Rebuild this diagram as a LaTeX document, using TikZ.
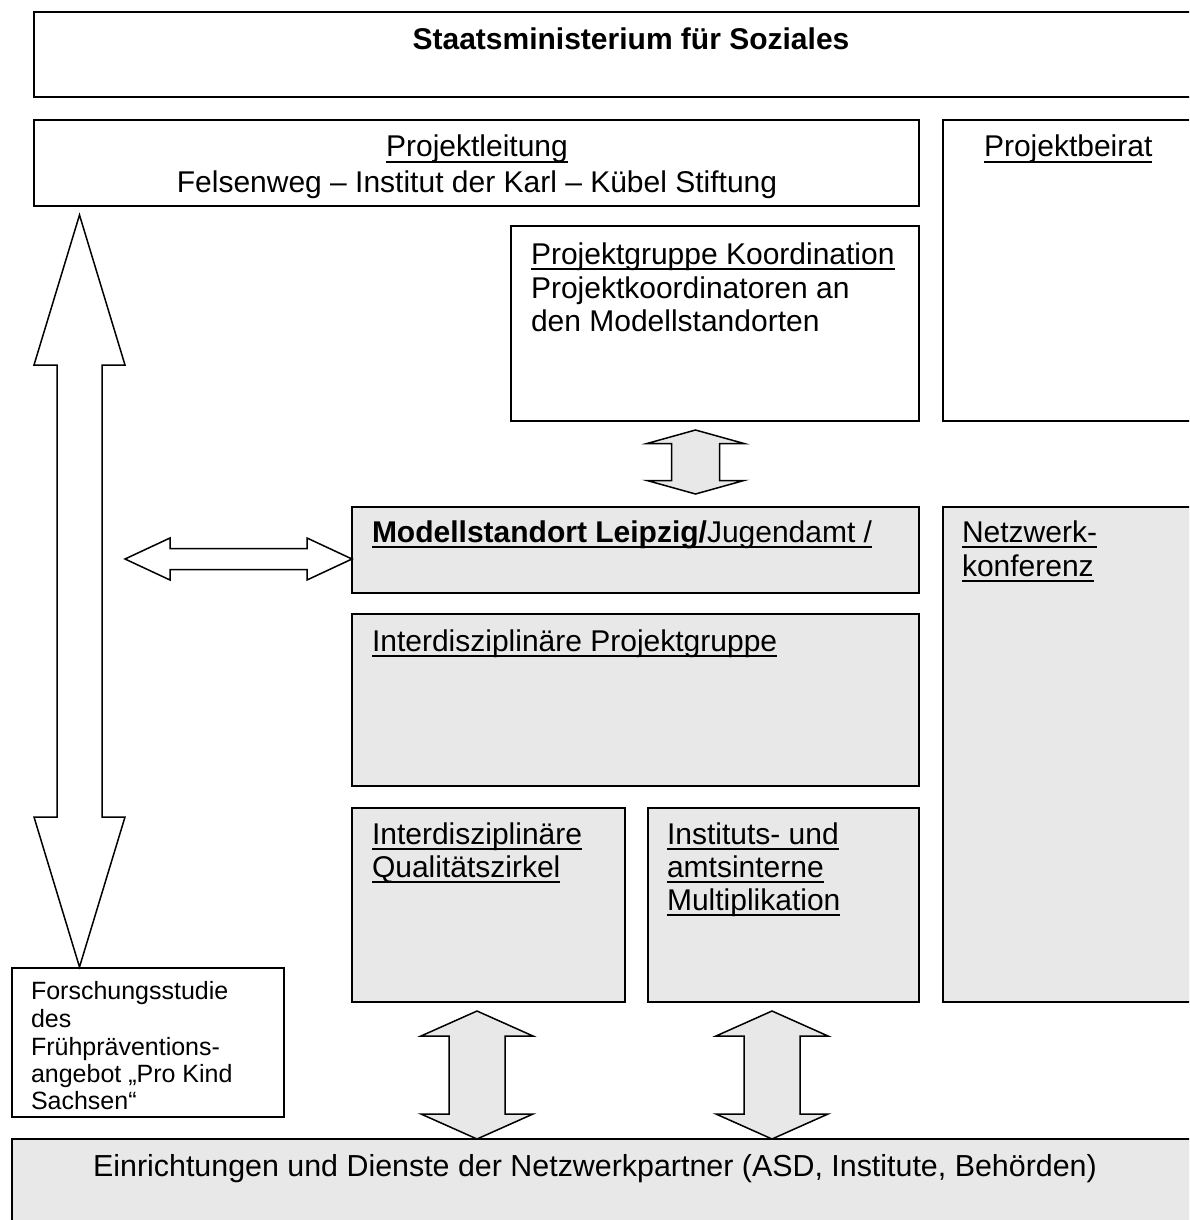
\documentclass[tikz,border=0pt]{standalone}
\usepackage{fontspec}
\setmainfont{Liberation Sans}
\usetikzlibrary{calc}
\definecolor{boxgray}{RGB}{232,232,232}
\newcommand\myul[1]{\setbox0\hbox{#1}\rlap{\rule[-6pt]{\wd0}{2.2pt}}\box0}
% vertical double block arrow: top tip, bottom tip, head half width, shaft half width, head length, fill
\newcommand\vdarrow[6]{\draw[barrow, fill=#6] (#1) -- ($(#1)+(#3,#5)$) -- ($(#1)+(#4,#5)$) -- ($(#2)+(#4,-#5)$) -- ($(#2)+(#3,-#5)$) -- (#2) -- ($(#2)+(-#3,-#5)$) -- ($(#2)+(-#4,-#5)$) -- ($(#1)+(-#4,#5)$) -- ($(#1)+(-#3,#5)$) -- cycle;}
% horizontal double block arrow: left tip, right tip, head half height, shaft half height, head length, fill
\newcommand\hdarrow[6]{\draw[barrow, fill=#6] (#1) -- ($(#1)+(#5,-#3)$) -- ($(#1)+(#5,-#4)$) -- ($(#2)+(-#5,-#4)$) -- ($(#2)+(-#5,-#3)$) -- (#2) -- ($(#2)+(-#5,#3)$) -- ($(#2)+(-#5,#4)$) -- ($(#1)+(#5,#4)$) -- ($(#1)+(#5,#3)$) -- cycle;}
\begin{document}
\begin{tikzpicture}[x=1pt,y=-1pt,
  box/.style={draw, line width=1.5pt, inner sep=0pt, outer sep=0pt, anchor=north west},
  gbox/.style={box, fill=boxgray},
  txt/.style={inner sep=0pt, outer sep=0pt, anchor=base west, font=\fontsize{30}{34}\selectfont},
  ctxt/.style={txt, anchor=base},
  small/.style={txt, font=\fontsize{25}{27.5}\selectfont},
  barrow/.style={draw, line width=1.5pt, line join=miter}]
\useasboundingbox (0,0) rectangle (1189,1220);
\clip (0,0) rectangle (1189,1220);
\fill[white] (0,0) rectangle (1189,1220);

% boxes
\node[box, minimum width=1200pt, minimum height=85pt] (sm) at (34,12) {};
\node[box, minimum width=885pt, minimum height=86pt] (pl) at (34,120) {};
\node[box, minimum width=300pt, minimum height=301pt] (pb) at (943,120) {};
\node[box, minimum width=408pt, minimum height=195pt] (pk) at (511,226) {};
\node[gbox, minimum width=567pt, minimum height=86pt] (ms) at (352,507) {};
\node[gbox, minimum width=300pt, minimum height=495pt] (nk) at (943,507) {};
\node[gbox, minimum width=567pt, minimum height=172pt] (ip) at (352,614) {};
\node[gbox, minimum width=273pt, minimum height=194pt] (qz) at (352,808) {};
\node[gbox, minimum width=271pt, minimum height=194pt] (mu) at (648,808) {};
\node[box, minimum width=272pt, minimum height=149pt] (fs) at (12,968) {};
\node[gbox, minimum width=1200pt, minimum height=120pt] (ei) at (12,1139) {};

% texts
\node[ctxt, font=\fontsize{30}{34}\selectfont\bfseries] (tsm) at (631,50) {Staatsministerium für Soziales};
\node[ctxt] (tpl1) at (477,157) {\myul{Projektleitung}};
\node[ctxt] (tpl2) at (477,192) {Felsenweg – Institut der Karl – Kübel Stiftung};
\node[txt] (tpb) at (984,157) {\myul{Projektbeirat}};
\node[txt] (tpk1) at (531,264) {\myul{Projektgruppe Koordination}};
\node[txt] (tpk2) at (531,298) {Projektkoordinatoren an};
\node[txt] (tpk3) at (531,331) {den Modellstandorten};
\node[txt] (tms) at (372,542) {\myul{\textbf{Modellstandort Leipzig/}Jugendamt /}};
\node[txt] (tnk1) at (962,542) {\myul{Netzwerk-}};
\node[txt] (tnk2) at (962,576) {\myul{konferenz}};
\node[txt] (tip) at (372,651) {\myul{Interdisziplinäre Projektgruppe}};
\node[txt] (tqz1) at (372,844) {\myul{Interdisziplinäre}};
\node[txt] (tqz2) at (372,877) {\myul{Qualitätszirkel}};
\node[txt] (tmu1) at (667,844) {\myul{Instituts- und}};
\node[txt] (tmu2) at (667,877) {\myul{amtsinterne}};
\node[txt] (tmu3) at (667,910) {\myul{Multiplikation}};
\node[small] (tfs1) at (31,999) {Forschungsstudie};
\node[small] (tfs2) at (31,1027) {des};
\node[small] (tfs3) at (31,1055) {Frühpräventions-};
\node[small] (tfs4) at (31,1082) {angebot „Pro Kind};
\node[small] (tfs5) at (31,1109) {Sachsen“};
\node[ctxt, font=\fontsize{30.4}{34}\selectfont] (tei) at (595,1176) {Einrichtungen und Dienste der Netzwerkpartner (ASD, Institute, Behörden)};

% arrows
\coordinate (bigtop) at (79.5,215);
\coordinate (bigbot) at (79.5,967);
\vdarrow{bigtop}{bigbot}{45.5}{22.5}{150}{white}

\coordinate (hleft) at (125,559);
\coordinate (hright) at (ms.west |- hleft);
\hdarrow{hleft}{hright}{21}{10.5}{45}{white}

\coordinate (ktop) at (695.5,430);
\coordinate (kbot) at (695.5,494);
\vdarrow{ktop}{kbot}{48.5}{24}{13.5}{boxgray}

\coordinate (a1top) at (477,1011);
\coordinate (a1bot) at (ei.north -| a1top);
\vdarrow{a1top}{a1bot}{56}{28}{25}{boxgray}

\coordinate (a2top) at (772,1011);
\coordinate (a2bot) at (ei.north -| a2top);
\vdarrow{a2top}{a2bot}{56}{28}{25}{boxgray}
\end{tikzpicture}
\end{document}
